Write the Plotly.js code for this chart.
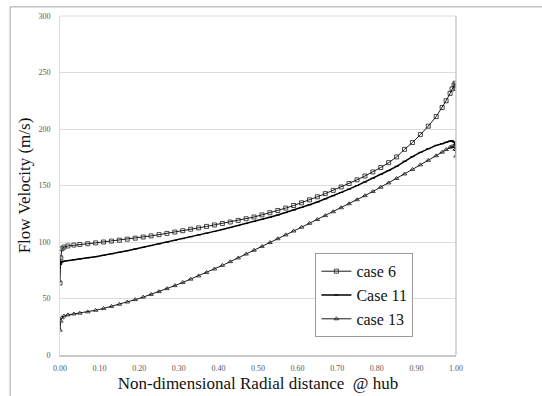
<!DOCTYPE html>
<html>
<head>
<meta charset="utf-8">
<script src="https://cdn.plot.ly/plotly-3.0.1.min.js"></script>
<style>html,body{margin:0;padding:0;background:#fff;}#chart{width:542px;height:396px;}</style>
</head>
<body>
<div id="chart"></div>
<script>
// Non-dimensional radial distance
const xVals = [0, 0.002, 0.005, 0.01, 0.02, 0.035, 0.05, 0.07, 0.09, 0.11, 0.13, 0.15, 0.17, 0.19, 0.21, 0.23, 0.25, 0.27, 0.29, 0.31, 0.33, 0.35, 0.37, 0.39, 0.41, 0.43, 0.45, 0.47, 0.49, 0.51, 0.53, 0.55, 0.57, 0.59, 0.61, 0.63, 0.65, 0.67, 0.69, 0.71, 0.73, 0.75, 0.77, 0.79, 0.81, 0.83, 0.85, 0.87, 0.89, 0.91, 0.93, 0.95, 0.965, 0.975, 0.985, 0.99, 0.995, 0.998, 1.0];
const case6 = [63.7, 86, 94, 95.5, 96.5, 97.3, 97.8, 98.5, 99.2, 100, 100.8, 101.6, 102.5, 103.4, 104.4, 105.4, 106.5, 107.6, 108.8, 110, 111.3, 112.5, 113.8, 115.1, 116.4, 117.7, 119.1, 120.6, 122.1, 124, 125.9, 127.9, 130, 132.3, 134.7, 137.3, 140, 142.8, 145.7, 148.7, 151.8, 155, 158.4, 162, 165.9, 170.2, 175.3, 182, 188, 195, 202.5, 211, 219, 225, 231.5, 235.5, 239, 240.5, 236];
const case11 = [80, 81.5, 82.5, 83, 83.6, 84.3, 85, 86, 87, 88.2, 89.5, 90.9, 92.3, 93.8, 95.3, 96.8, 98.3, 99.8, 101.4, 103, 104.6, 106.2, 107.8, 109.4, 111.1, 112.8, 114.5, 116.3, 118.1, 120, 121.9, 123.9, 126, 128.2, 130.5, 132.9, 135.4, 138.1, 140.9, 143.8, 146.8, 149.9, 153.1, 156.4, 159.8, 163.3, 167, 171.5, 175.5, 179.3, 182.6, 185.5, 187, 188.3, 189.3, 189.5, 188.5, 186, 181];
const case13 = [22, 30, 33, 34.5, 35.5, 36.3, 37, 38.2, 39.6, 41.2, 43, 44.9, 46.9, 49, 51.2, 53.6, 56.1, 58.7, 61.4, 64.2, 67.1, 70, 73, 76.1, 79.3, 82.6, 85.9, 89.3, 92.7, 96.1, 99.5, 102.9, 106.3, 109.7, 113.1, 116.5, 119.9, 123.3, 126.8, 130.3, 133.8, 137.4, 141, 144.7, 148.5, 152.3, 156.2, 160.2, 164.2, 168.3, 172.3, 176.3, 179.5, 181.8, 183.8, 184.6, 184.5, 182, 176];
const seriesNames = ["case 6", "Case 11", "case 13"];
const xTickVals = [0, 0.1, 0.2, 0.3, 0.4, 0.5, 0.6, 0.7, 0.8, 0.9, 1.0];
const yTickVals = [0, 50, 100, 150, 200, 250, 300];

const serif = "Liberation Serif";

const traces = [
  {x: xVals, y: case6, name: seriesNames[0], mode: "lines+markers",
   line: {color: "#1a1a1a", width: 1},
   marker: {symbol: "square-open", size: 4, color: "#1a1a1a", line: {width: 0.8}}},
  {x: xVals, y: case11, name: seriesNames[1], mode: "lines+markers",
   line: {color: "#000", width: 1.5},
   marker: {symbol: "line-ew-open", size: 3, color: "#000", line: {width: 1}}},
  {x: xVals, y: case13, name: seriesNames[2], mode: "lines+markers",
   line: {color: "#1a1a1a", width: 1},
   marker: {symbol: "triangle-up-open", size: 4, color: "#1a1a1a", line: {width: 0.8}}}
];

const layout = {
  width: 542, height: 396,
  margin: {l: 60, r: 86, t: 16, b: 41, pad: 0},
  paper_bgcolor: "#fff", plot_bgcolor: "#fff",
  font: {family: serif, color: "#111"},
  showlegend: true,
  legend: {
    x: 0.645, y: 0.3, xanchor: "left", yanchor: "top",
    bgcolor: "#fff", bordercolor: "#9a9a9a", borderwidth: 1,
    font: {family: serif, size: 16, color: "#111"},
    tracegroupgap: 0
  },
  xaxis: {
    range: [0, 1], tickmode: "array", tickvals: xTickVals, tickformat: ".2f",
    color: "#595959",
    showgrid: false, zeroline: false,
    showline: true, linecolor: "#c8c8c8", linewidth: 2, mirror: false,
    ticks: "outside", ticklen: 4, tickcolor: "rgba(255,255,255,0)",
    tickfont: {family: serif, size: 8, color: "#595959"},
    title: {text: "Non-dimensional Radial distance&nbsp;&nbsp;@ hub", font: {family: serif, size: 17, color: "#111"}, standoff: 6}
  },
  yaxis: {
    range: [0, 300], tickmode: "array", tickvals: yTickVals,
    color: "#595959",
    showgrid: true, gridcolor: "#dcdcdc", gridwidth: 1, zeroline: false,
    showline: true, linecolor: "#dcdcdc", linewidth: 1, mirror: false,
    ticks: "outside", ticklen: 7, tickcolor: "rgba(255,255,255,0)",
    tickfont: {family: serif, size: 8, color: "#595959"},
    title: {text: "Flow Velocity (m/s)", font: {family: serif, size: 17, color: "#111"}, standoff: 3}
  },
  shapes: [
    {type: "line", xref: "paper", yref: "paper", x0: 1, x1: 1, y0: 0, y1: 1, line: {color: "#c8c8c8", width: 1.5}},
    {type: "line", xref: "paper", yref: "paper", x0: 0, x1: 1, y0: 1, y1: 1, line: {color: "#dcdcdc", width: 1}},
    {type: "line", xref: "paper", yref: "paper", x0: -0.126, x1: 1.23, y0: 1.027, y1: 1.027, line: {color: "#a6a6a6", width: 1}},
    {type: "line", xref: "paper", yref: "paper", x0: -0.126, x1: -0.126, y0: 1.027, y1: -0.14, line: {color: "#a6a6a6", width: 1}}
  ]
};

Plotly.newPlot("chart", traces, layout, {displayModeBar: false, staticPlot: true});
</script>
</body>
</html>
